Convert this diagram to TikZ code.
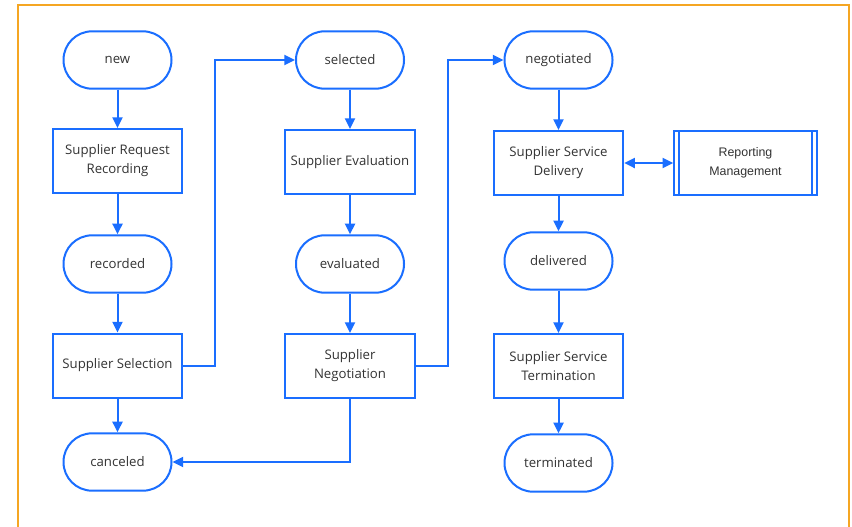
\documentclass[tikz,border=0pt]{standalone}
\usepackage{fontspec}
\setmainfont{Open Sans}
\newfontfamily\repfont{Liberation Sans}
\usetikzlibrary{arrows.meta}
\definecolor{fblue}{HTML}{1A6EFF}
\definecolor{forange}{HTML}{F5A623}
\definecolor{ftext}{HTML}{333333}
\begin{document}
\begin{tikzpicture}[x=0.75pt,y=-0.75pt,
  every node/.style={text=ftext,font=\fontsize{9.9}{14.2}\selectfont,align=center},
  state/.style={draw=fblue,line width=1.5pt,rounded corners=21.4pt,minimum width=81pt,minimum height=43pt,inner sep=0pt},
  proc/.style={draw=fblue,line width=1.5pt,minimum width=97pt,minimum height=48pt,inner sep=0pt},
  conn/.style={draw=fblue,line width=1.5pt,-{Triangle[length=8pt,width=7.5pt]}},
  dconn/.style={draw=fblue,line width=1.5pt,{Triangle[length=8pt,width=7.5pt]}-{Triangle[length=8pt,width=7.5pt]}}]
\useasboundingbox (0,0) rectangle (852,526);
\fill[white] (0,0) rectangle (852,526);
\draw[forange,line width=1.5pt] (18,530) -- (18,5) -- (849,5) -- (849,530);
% column 1
\node[state] (new) at (117.5,60) {new};
\node[proc] (srr) at (117.5,161) {Supplier Request\\Recording};
\node[state] (rec) at (117.5,264) {recorded};
\node[proc] (ss) at (117.5,365.5) {Supplier Selection};
\node[state] (can) at (117.5,462) {canceled};
% column 2
\node[state] (sel) at (350,60) {selected};
\node[proc] (se) at (350,162) {Supplier Evaluation};
\node[state] (ev) at (350,264) {evaluated};
\node[proc] (sn) at (350,366) {Supplier\\Negotiation};
% column 3
\node[state] (neg) at (558.5,60) {negotiated};
\node[proc] (ssd) at (558.5,163) {Supplier Service\\Delivery};
\node[draw=fblue,line width=1.5pt,minimum width=107pt,minimum height=48pt,inner sep=0pt,font=\repfont\fontsize{9.3}{14.2}\selectfont] (rm) at (745.5,163) {Reporting\\Management};
\draw[fblue,line width=1.2pt] ([xshift=4.5pt]rm.north west) -- ([xshift=4.5pt]rm.south west);
\draw[fblue,line width=1.2pt] ([xshift=-4.5pt]rm.north east) -- ([xshift=-4.5pt]rm.south east);
\node[state] (del) at (558.5,261) {delivered};
\node[proc] (sst) at (558.5,366) {Supplier Service\\Termination};
\node[state] (ter) at (558.5,463) {terminated};
% connectors
\draw[conn] (new) -- (srr);
\draw[conn] (srr) -- (rec);
\draw[conn] (rec) -- (ss);
\draw[conn] (ss) -- (can);
\draw[conn] (ss.east) -- ++(32,0) |- (sel.west);
\draw[conn] (sel) -- (se);
\draw[conn] (se) -- (ev);
\draw[conn] (ev) -- (sn);
\draw[conn] (sn.east) -- ++(32,0) |- (neg.west);
\draw[conn] (sn.south) |- (can.east);
\draw[conn] (neg) -- (ssd);
\draw[dconn] (ssd) -- (rm);
\draw[conn] (ssd) -- (del);
\draw[conn] (del) -- (sst);
\draw[conn] (sst) -- (ter);
\end{tikzpicture}
\end{document}
